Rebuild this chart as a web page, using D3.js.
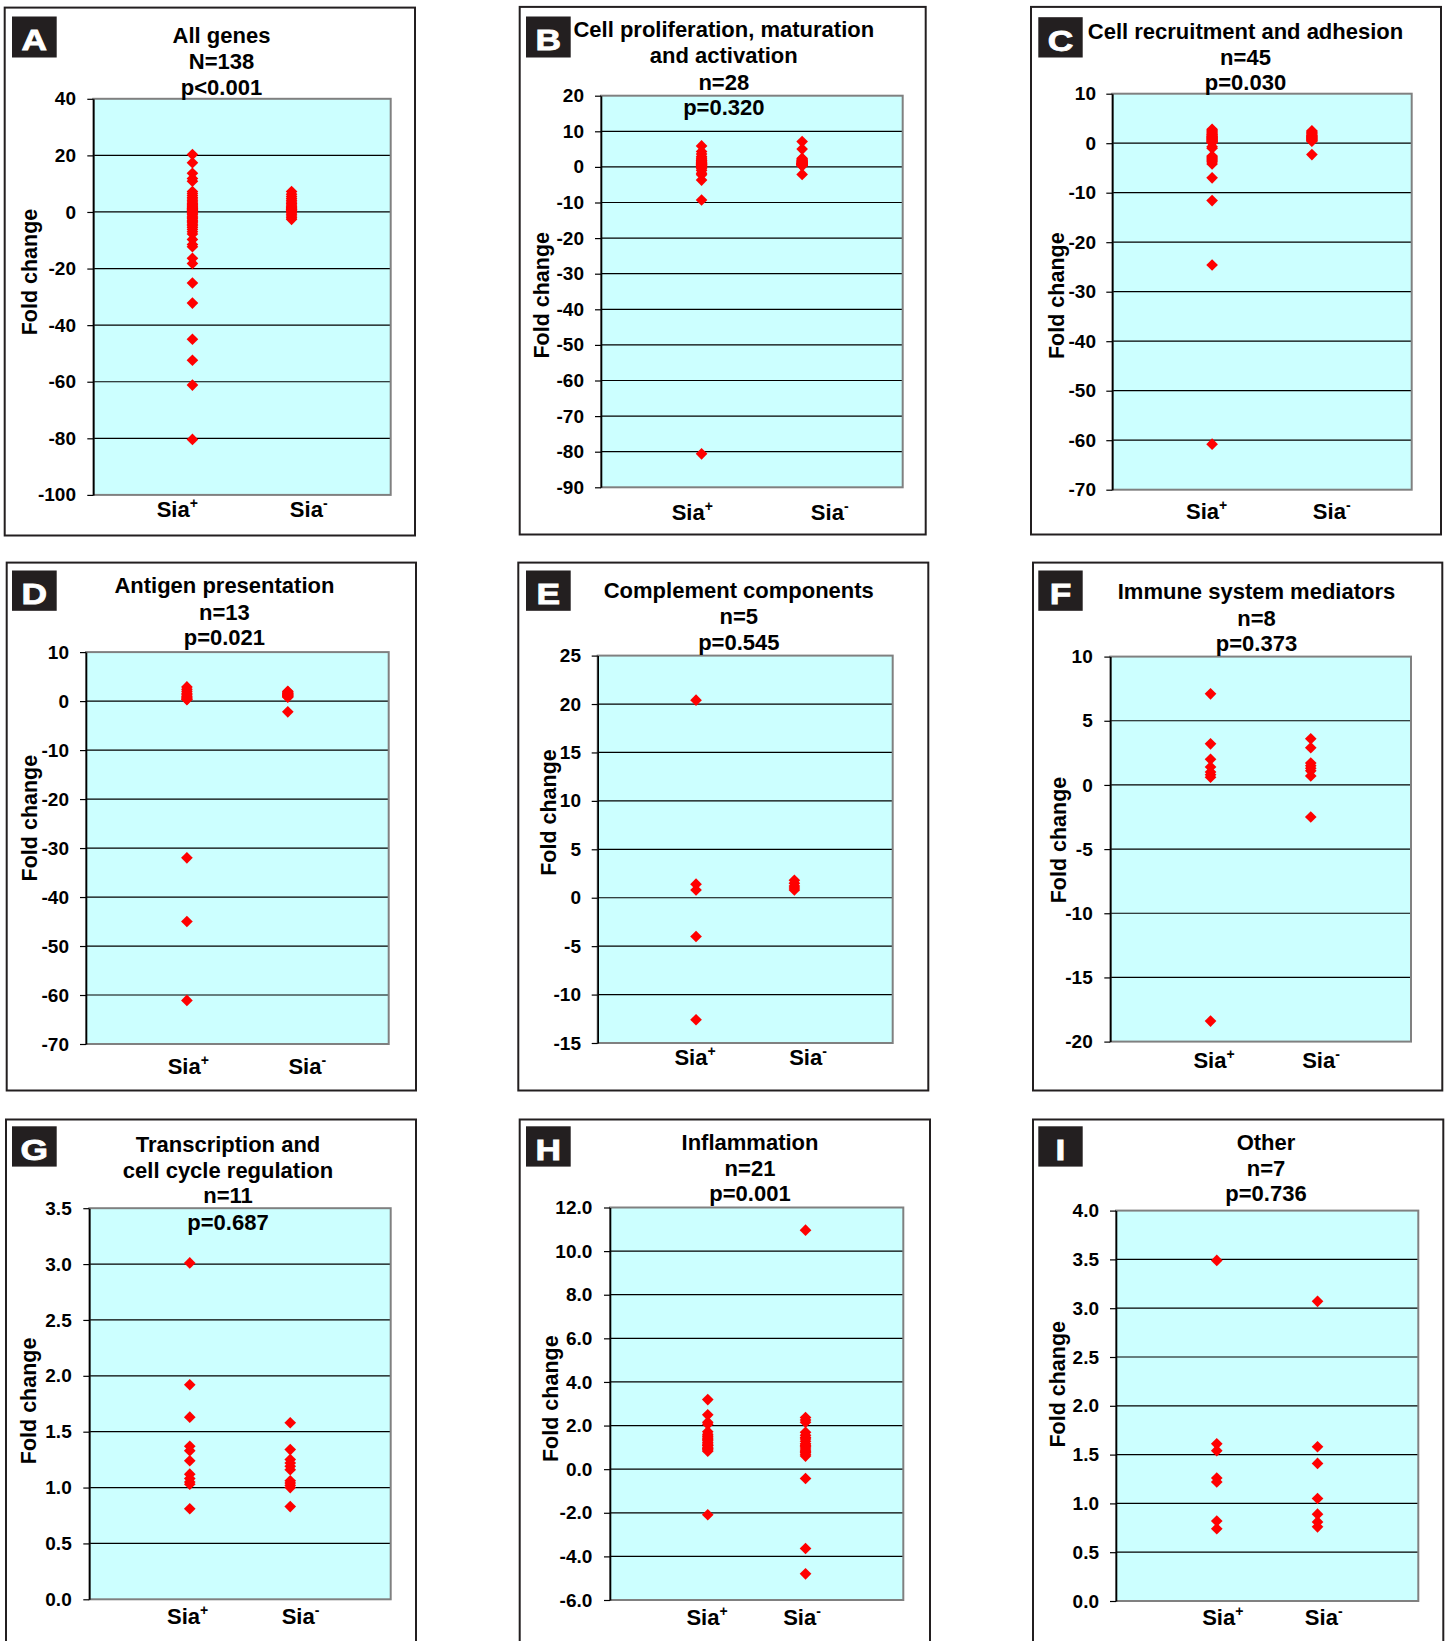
<!DOCTYPE html>
<html><head><meta charset="utf-8">
<script src="https://cdn.jsdelivr.net/npm/d3@7"></script>
<style>
body{margin:0;background:#fff}
text{font-family:"Liberation Sans",Arial,sans-serif;font-weight:bold;fill:#000}
</style>
</head><body><svg id="c" width="1448" height="1641"></svg>
<script>
// ---------------- DATA ----------------
const categories = ["Sia+", "Sia-"];
const panelLetters = ["A","B","C","D","E","F","G","H","I"];

const titleA = ["All genes", "N=138", "p<0.001"];
const titleB = ["Cell proliferation, maturation", "and activation", "n=28", "p=0.320"];
const titleC = ["Cell recruitment and adhesion", "n=45", "p=0.030"];
const titleD = ["Antigen presentation", "n=13", "p=0.021"];
const titleE = ["Complement components", "n=5", "p=0.545"];
const titleF = ["Immune system mediators", "n=8", "p=0.373"];
const titleG = ["Transcription and", "cell cycle regulation", "n=11", "p=0.687"];
const titleH = ["Inflammation", "n=21", "p=0.001"];
const titleI = ["Other", "n=7", "p=0.736"];

const ticksA = [40, 20, 0, -20, -40, -60, -80, -100];
const ticksB = [20, 10, 0, -10, -20, -30, -40, -50, -60, -70, -80, -90];
const ticksC = [10, 0, -10, -20, -30, -40, -50, -60, -70];
const ticksD = [10, 0, -10, -20, -30, -40, -50, -60, -70];
const ticksE = [25, 20, 15, 10, 5, 0, -5, -10, -15];
const ticksF = [10, 5, 0, -5, -10, -15, -20];
const ticksG = [3.5, 3.0, 2.5, 2.0, 1.5, 1.0, 0.5, 0.0];
const ticksH = [12, 10, 8, 6, 4, 2, 0, -2, -4, -6];
const ticksI = [4.0, 3.5, 3.0, 2.5, 2.0, 1.5, 1.0, 0.5, 0.0];

const siaPosA = [20.3, 17.4, 13.7, 11.8, 10.9, 7.2, 6.5, 5.8, 5.1, 4.6, 4.0, 3.5, 3.0, 2.6, 2.2, 1.9, 1.6, 1.3, 1.1, 0.9, 0.7, 0.5, 0.3, -0.2, -0.6, -1.0, -1.5, -2.0, -2.4, -2.9, -3.3, -3.8, -4.3, -4.9, -5.5, -6.2, -7.0, -7.8, -9.7, -11.5, -12.3, -16.4, -18.2, -25.1, -32.2, -45.0, -52.4, -61.2, -80.4];
const siaNegA = [7.2, 6.3, 5.5, 4.8, 4.1, 3.5, 3.0, 2.5, 2.0, 1.6, 1.3, 1.0, 0.8, 0.5, 0.2, -0.3, -0.8, -1.4, -2.0, -2.6];

const siaPosB = [5.9, 4.3, 3.6, 2.9, 2.5, 2.2, 1.9, 1.7, 1.5, 1.3, 1.2, 1.0, 0.9, 0.8, 0.7, 0.6, 0.5, 0.4, 0.25, 0.1, -0.2, -0.5, -1.0, -1.8, -2.2, -3.7, -9.3, -80.6];
const siaNegB = [7.1, 5.0, 2.4, 2.2, 2.0, 1.8, 1.7, 1.6, 1.5, 1.4, 1.3, 1.2, 1.1, 1.0, 1.0, 0.9, 0.9, 0.8, 0.8, 0.7, 0.7, 0.6, 0.6, 0.5, 0.5, 0.4, 0.3, -2.1];

const siaPosC = [2.8, 2.6, 2.4, 2.2, 2.0, 1.8, 1.7, 1.5, 1.4, 1.3, 1.2, 1.1, 1.0, 0.9, 0.8, 0.7, 0.6, 0.5, 0.4, 0.3, 0.2, 0.1, -0.7, -1.0, -2.6, -2.8, -3.0, -3.2, -3.4, -3.6, -3.8, -4.2, -7.0, -11.6, -24.6, -60.8];
const siaNegC = [2.5, 2.3, 2.1, 2.0, 1.8, 1.6, 1.5, 1.4, 1.3, 1.2, 1.1, 1.0, 0.9, 0.8, 0.7, 0.6, 0.5, 0.4, -2.3];

const siaPosD = [2.9, 2.4, 2.0, 1.6, 1.3, 1.0, 0.8, 0.6, 0.4, 0.3, -32.0, -45.0, -61.1];
const siaNegD = [2.0, 1.9, 1.7, 1.6, 1.5, 1.4, 1.3, 1.2, 1.1, 1.0, 0.9, 0.8, -2.2];

const siaPosE = [20.4, 1.4, 0.8, -4.0, -12.6];
const siaNegE = [1.8, 1.5, 1.2, 1.0, 0.8];

const siaPosF = [7.1, 3.2, 2.0, 1.4, 1.0, 0.8, 0.6, -18.4];
const siaNegF = [3.6, 2.9, 1.7, 1.5, 1.3, 1.1, 0.7, -2.5];

const siaPosG = [3.01, 1.92, 1.63, 1.37, 1.33, 1.24, 1.12, 1.08, 1.05, 1.03, 0.81];
const siaNegG = [1.58, 1.34, 1.25, 1.22, 1.19, 1.16, 1.06, 1.04, 1.02, 1.00, 0.83];

const siaPosH = [3.19, 2.49, 2.15, 2.06, 1.72, 1.60, 1.52, 1.48, 1.40, 1.35, 1.30, 1.22, 1.15, 1.10, 1.08, 1.00, 0.95, 0.92, 0.88, 0.82, -2.09];
const siaNegH = [10.96, 2.37, 2.25, 2.15, 1.69, 1.55, 1.45, 1.38, 1.28, 1.17, 1.10, 1.05, 0.97, 0.88, 0.82, 0.76, 0.68, 0.60, -0.43, -3.64, -4.80];

const siaPosI = [3.49, 1.61, 1.54, 1.26, 1.22, 0.82, 0.74];
const siaNegI = [3.07, 1.58, 1.41, 1.05, 0.89, 0.81, 0.76];

// ---------------- LAYOUT ----------------
const panels = [
 {id:"A", title:titleA, ticks:ticksA, pos:siaPosA, neg:siaNegA, dec:0,
  frame:[4.7,7.6,415,535.5], box:[12,16.5,56.7,57.5], plot:[93.3,98.8,390.7,494.9],
  tx:221.5, ty:[43,68.9,94.7], tickRight:76, ylab:[29.7,272], xlab:[177.3,308.7], xlabY:516.5},
 {id:"B", title:titleB, ticks:ticksB, pos:siaPosB, neg:siaNegB, dec:0,
  frame:[519.7,6.9,925.7,534.5], box:[526,16.5,570.7,57.5], plot:[601,95.7,902.7,487.3],
  tx:723.8, ty:[37.2,63,89.5,115.4], tickRight:584, ylab:[542,295.3], xlab:[692.3,829.7], xlabY:520},
 {id:"C", title:titleC, ticks:ticksC, pos:siaPosC, neg:siaNegC, dec:0,
  frame:[1031,6.9,1441,534.5], box:[1038.3,17.2,1082.7,57.5], plot:[1112.3,93.7,1411.7,489.7],
  tx:1245.5, ty:[38.6,64.7,90.2], tickRight:1096, ylab:[1057.2,295.7], xlab:[1206.7,1331.7], xlabY:519},
 {id:"D", title:titleD, ticks:ticksD, pos:siaPosD, neg:siaNegD, dec:0,
  frame:[6.7,562.6,416,1090.5], box:[12,570.5,56.7,610.8], plot:[86,652.1,388.7,1044],
  tx:224.4, ty:[592.9,619.7,645.2], tickRight:69, ylab:[30,818.1], xlab:[188.3,307.3], xlabY:1074},
 {id:"E", title:titleE, ticks:ticksE, pos:siaPosE, neg:siaNegE, dec:0,
  frame:[518.3,562.6,928.3,1090.5], box:[526,570.5,570.7,610.8], plot:[597.7,655.6,892.7,1043],
  tx:738.8, ty:[598,623.9,649.7], tickRight:581, ylab:[549.2,812.5], xlab:[695,808], xlabY:1065.4},
 {id:"F", title:titleF, ticks:ticksF, pos:siaPosF, neg:siaNegF, dec:0,
  frame:[1033,562.6,1442.3,1090.5], box:[1038.3,570.5,1082.7,610.8], plot:[1110.3,656.6,1411,1041.6],
  tx:1256.5, ty:[599.1,625.6,651.4], tickRight:1092.7, ylab:[1058.7,840], xlab:[1214,1321], xlabY:1068.1},
 {id:"G", title:titleG, ticks:ticksG, pos:siaPosG, neg:siaNegG, dec:1,
  frame:[6,1119.5,416,1660], box:[12,1126.3,56.7,1166.6], plot:[89.3,1208.2,390.7,1599.3],
  tx:228, ty:[1152.3,1177.7,1203.1,1230.2], tickRight:71.7, ylab:[29.2,1400.9], xlab:[187.7,300.5], xlabY:1624},
 {id:"H", title:titleH, ticks:ticksH, pos:siaPosH, neg:siaNegH, dec:1,
  frame:[519.7,1119.5,930,1660], box:[526,1126.3,570.7,1166.6], plot:[610,1207.5,903.3,1600],
  tx:750, ty:[1150,1176,1201.4], tickRight:592.3, ylab:[550.8,1398.7], xlab:[707,802], xlabY:1625.4},
 {id:"I", title:titleI, ticks:ticksI, pos:siaPosI, neg:siaNegI, dec:1,
  frame:[1033,1119.5,1443.3,1660], box:[1038.3,1126.3,1082.7,1166.6], plot:[1116,1210.6,1418.3,1601],
  tx:1266, ty:[1150,1176,1201.4], tickRight:1099, ylab:[1057.5,1384.3], xlab:[1222.8,1323.7], xlabY:1625.4}
];

const svg = d3.select("#c");
svg.append("rect").attr("width",1448).attr("height",1641).attr("fill","#fff");

const diamond = d3.symbol().type(d3.symbolSquare).size(68);

panels.forEach((p, idx) => {
  const g = svg.append("g");
  const [fx0, fy0, fx1, fy1] = p.frame;
  g.append("rect").attr("x",fx0).attr("y",fy0).attr("width",fx1-fx0).attr("height",fy1-fy0)
    .attr("fill","#fff").attr("stroke","#231f20").attr("stroke-width",2);

  // letter box
  const [bx0, by0, bx1, by1] = p.box;
  g.append("rect").attr("x",bx0).attr("y",by0).attr("width",bx1-bx0).attr("height",by1-by0).attr("fill","#231f20");
  const cx = (bx0+bx1)/2;
  g.append("text").attr("transform",`translate(${cx},${by0+33.5}) scale(1.22,1)`)
    .attr("text-anchor","middle").style("font-size","29px").style("fill","#fff")
    .attr("stroke","#fff").attr("stroke-width",0.8)
    .text(panelLetters[idx]);

  const [px0, py0, px1, py1] = p.plot;
  const y = d3.scaleLinear().domain(d3.extent(p.ticks)).range([py1, py0]);
  const x = d3.scalePoint().domain(categories).range([px0, px1]).padding(1);

  // plot background
  g.append("rect").attr("x",px0).attr("y",py0).attr("width",px1-px0).attr("height",py1-py0).attr("fill","#ccffff");

  // gridlines
  const [lo, hi] = d3.extent(p.ticks);
  g.append("g").selectAll("line").data(p.ticks.filter(t => t !== lo && t !== hi)).join("line")
    .attr("x1",px0).attr("x2",px1).attr("y1",d=>y(d)).attr("y2",d=>y(d))
    .attr("stroke","#000").attr("stroke-width",1.2);

  // plot border
  g.append("rect").attr("x",px0).attr("y",py0).attr("width",px1-px0).attr("height",py1-py0)
    .attr("fill","none").attr("stroke","#808080").attr("stroke-width",2);

  // y axis
  const tickLen = 6;
  const axis = d3.axisLeft(y).tickValues(p.ticks).tickSize(tickLen).tickSizeOuter(0)
    .tickPadding(px0 - tickLen - p.tickRight).tickFormat(d => d.toFixed(p.dec));
  const ag = g.append("g").attr("transform",`translate(${px0},0)`).call(axis);
  ag.select(".domain").attr("stroke","#000").attr("stroke-width",1.6);
  ag.selectAll(".tick line").attr("stroke","#000").attr("stroke-width",1.2);
  ag.selectAll(".tick text").style("font-size","19px").style("font-family",'"Liberation Sans",Arial,sans-serif')
    .style("font-weight","bold").attr("fill","#000");

  // title
  p.title.forEach((t, i) => {
    g.append("text").attr("x",p.tx).attr("y",p.ty[i]).attr("text-anchor","middle")
      .style("font-size","22px").text(t);
  });

  // y label
  g.append("text").attr("transform",`translate(${p.ylab[0]},${p.ylab[1]}) rotate(-90)`)
    .attr("text-anchor","middle").attr("dominant-baseline","central")
    .style("font-size","21.5px").text("Fold change");

  // x labels
  categories.forEach((c, i) => {
    const t = g.append("text").attr("x",p.xlab[i]).attr("y",p.xlabY).attr("text-anchor","middle")
      .style("font-size","22px");
    t.append("tspan").text(c.slice(0,3));
    t.append("tspan").attr("dy",-9).style("font-size","14px").text(c.slice(3));
  });

  // points
  const pts = [];
  p.pos.forEach(v => pts.push({c:categories[0], v}));
  p.neg.forEach(v => pts.push({c:categories[1], v}));
  g.append("g").selectAll("path").data(pts).join("path")
    .attr("d", diamond)
    .attr("transform", d => `translate(${x(d.c)},${y(d.v)}) rotate(45)`)
    .attr("fill","#ff0000");
});
</script>
</body></html>
